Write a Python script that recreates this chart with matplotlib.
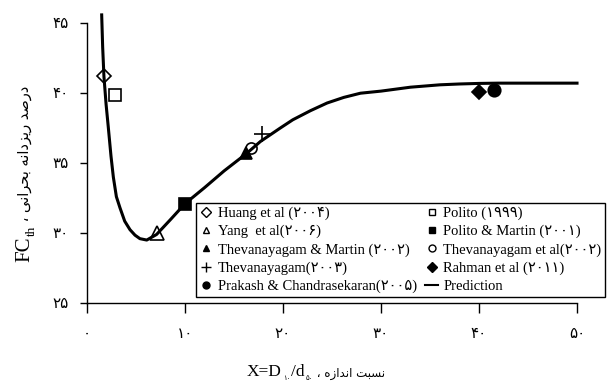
import numpy as np
import matplotlib.pyplot as plt
from matplotlib.lines import Line2D

# persian digits for tick labels
fa_digits = str.maketrans('0123456789', '۰۱۲۳۴۵۶۷۸۹')

# test data (X = D10/d50, FCth in %)
huang_x, huang_y = [1.7], [41.2]
polito_x, polito_y = [2.9], [39.85]
yang_x, yang_y = [7.1], [30.0]
polito_martin_x, polito_martin_y = [10.0], [32.1]
thev_martin_x, thev_martin_y = [16.2], [35.7]
thev_al_x, thev_al_y = [16.7], [36.05]
thev_x, thev_y = [17.9], [37.1]
rahman_x, rahman_y = [40.0], [40.1]
prakash_x, prakash_y = [41.5], [40.2]

# prediction curve
pred_x = [1.5, 1.6, 1.73, 1.95, 2.17, 2.45, 2.69, 3.0, 3.37, 3.85, 4.39, 4.9,
          5.4, 6.1, 7.1, 8.5, 10, 12, 14, 16.3, 17.7, 19.7, 21, 22.8, 24.5,
          26.2, 27.9, 30, 33, 36, 38, 40, 42, 46, 50]
pred_y = [45.6, 43.3, 41.2, 39.2, 37.6, 35.5, 34.0, 32.6, 31.8, 30.85, 30.24,
          29.85, 29.6, 29.5, 29.9, 30.95, 32.1, 33.25, 34.45, 35.7, 36.55,
          37.5, 38.1, 38.75, 39.3, 39.7, 40.0, 40.15, 40.43, 40.6, 40.66,
          40.7, 40.72, 40.72, 40.72]

xticks = [0, 10, 20, 30, 40, 50]
yticks = [25, 30, 35, 40, 45]

# label, x, y, marker, filled, size
series = [
    ('Huang et al (۲۰۰۴)', huang_x, huang_y, 'D', False, 7.5),
    ('Yang  et al(۲۰۰۶)', yang_x, yang_y, '^', False, 10),
    ('Thevanayagam & Martin (۲۰۰۲)', thev_martin_x, thev_martin_y, '^', True, 8),
    ('Thevanayagam(۲۰۰۳)', thev_x, thev_y, '+', False, 11),
    ('Prakash & Chandrasekaran(۲۰۰۵)', prakash_x, prakash_y, 'o', True, 9),
    ('Polito (۱۹۹۹)', polito_x, polito_y, 's', False, 8),
    ('Polito & Martin (۲۰۰۱)', polito_martin_x, polito_martin_y, 's', True, 9),
    ('Thevanayagam et al(۲۰۰۲)', thev_al_x, thev_al_y, 'o', False, 8),
    ('Rahman et al (۲۰۱۱)', rahman_x, rahman_y, 'D', True, 7.5),
]

serif = ['Liberation Serif', 'DejaVu Sans']
plt.rcParams['font.family'] = serif

fig = plt.figure(figsize=(6.07, 3.83), dpi=100)
ax = fig.add_axes([0.1433, 0.2089, 0.8073, 0.7303])

ax.plot(pred_x, pred_y, color='black', lw=2.2, clip_on=False, zorder=3)

handles = []
for label, x, y, m, filled, ms in series:
    fc = 'black' if filled else 'none'
    ax.plot(x, y, ls='none', marker=m, ms=ms, mfc=fc, mec='black', mew=1.2,
            clip_on=False, zorder=4)
    handles.append(Line2D([], [], ls='none', marker=m, ms=5 if m != '+' else 7,
                          mfc=fc, mec='black', mew=1.0))
labels = [s[0] for s in series]
handles.append(Line2D([], [], color='black', lw=1.5))
labels.append('Prediction')

ax.set_xlim(0, 50)
ax.set_ylim(25, 45)
ax.set_xticks(xticks)
ax.set_xticklabels([str(t).translate(fa_digits) for t in xticks])
ax.set_yticks(yticks)
ax.set_yticklabels([str(t).translate(fa_digits) for t in yticks])
ax.spines['top'].set_visible(False)
ax.spines['right'].set_visible(False)
for s in ['left', 'bottom']:
    ax.spines[s].set_linewidth(1.0)
ax.tick_params(axis='y', direction='out', length=5, width=1, pad=8, labelsize=11)
ax.tick_params(axis='x', direction='out', length=7, width=1, pad=11, labelsize=11)

leg = fig.legend(handles, labels, ncol=2, loc='upper left',
                 bbox_to_anchor=(0.323, 0.47),
                 fancybox=False, edgecolor='black', framealpha=1,
                 prop={'family': serif, 'size': 10.5}, handlelength=0.9,
                 handletextpad=0.35, borderpad=0.25, labelspacing=0.33,
                 columnspacing=0.55, borderaxespad=0)
leg.get_frame().set_linewidth(1.0)

# y label: "FC_th ، درصد ریزدانه بحرانی" (presentation forms, visual order)
y_fa = (' \u060c '
        '\ufef0\ufee7\ufe8d\ufeae\ufea4\ufe91 '          # bohrani
        '\ufeea\ufee7\ufe8d\ufea9\ufeb0\ufef3\ufead '    # rizdane
        '\ufeaa\ufebb\ufead\ufea9')                      # darsad
x0, y0 = 0.048, 0.316
t_fc = fig.text(x0, y0, 'FC', rotation=90, rotation_mode='anchor',
                ha='left', va='baseline', fontsize=15)
t_th = ax.annotate('th', xy=(x0, 1), xycoords=('figure fraction', t_fc),
                   xytext=(4, 0.5), textcoords='offset points', rotation=90,
                   rotation_mode='anchor', ha='left', va='baseline', fontsize=9.5)
ax.annotate(y_fa, xy=(x0, 1), xycoords=('figure fraction', t_th),
            rotation=90, rotation_mode='anchor', ha='left', va='baseline',
            fontsize=10.5, family='DejaVu Sans')

# x label: "X=D10/d50 ، نسبت اندازه"
x_fa = (' \u060c '
        '\ufee9\ufeaf\ufe8d\ufeaa\ufee7\ufe8d '   # andaze
        '\ufe96\ufe92\ufeb4\ufee7')               # nesbat
bx, by = 0.407, 0.017
t_x = fig.text(bx, by, 'X=D', ha='left', va='baseline', fontsize=12.5)
t_s1 = ax.annotate('۱۰', xy=(1, by), xycoords=(t_x, 'figure fraction'),
                   xytext=(0.5, -2.5), textcoords='offset points',
                   ha='left', va='baseline', fontsize=5)
t_d = ax.annotate('/d', xy=(1, by), xycoords=(t_s1, 'figure fraction'),
                  xytext=(0.5, 0), textcoords='offset points',
                  ha='left', va='baseline', fontsize=12.5)
t_s2 = ax.annotate('۵۰', xy=(1, by), xycoords=(t_d, 'figure fraction'),
                   xytext=(0.5, -2.5), textcoords='offset points',
                   ha='left', va='baseline', fontsize=5)
ax.annotate(x_fa, xy=(1, by), xycoords=(t_s2, 'figure fraction'),
            ha='left', va='baseline', fontsize=8.5, family='DejaVu Sans')

fig.savefig('out.png', dpi=100)
